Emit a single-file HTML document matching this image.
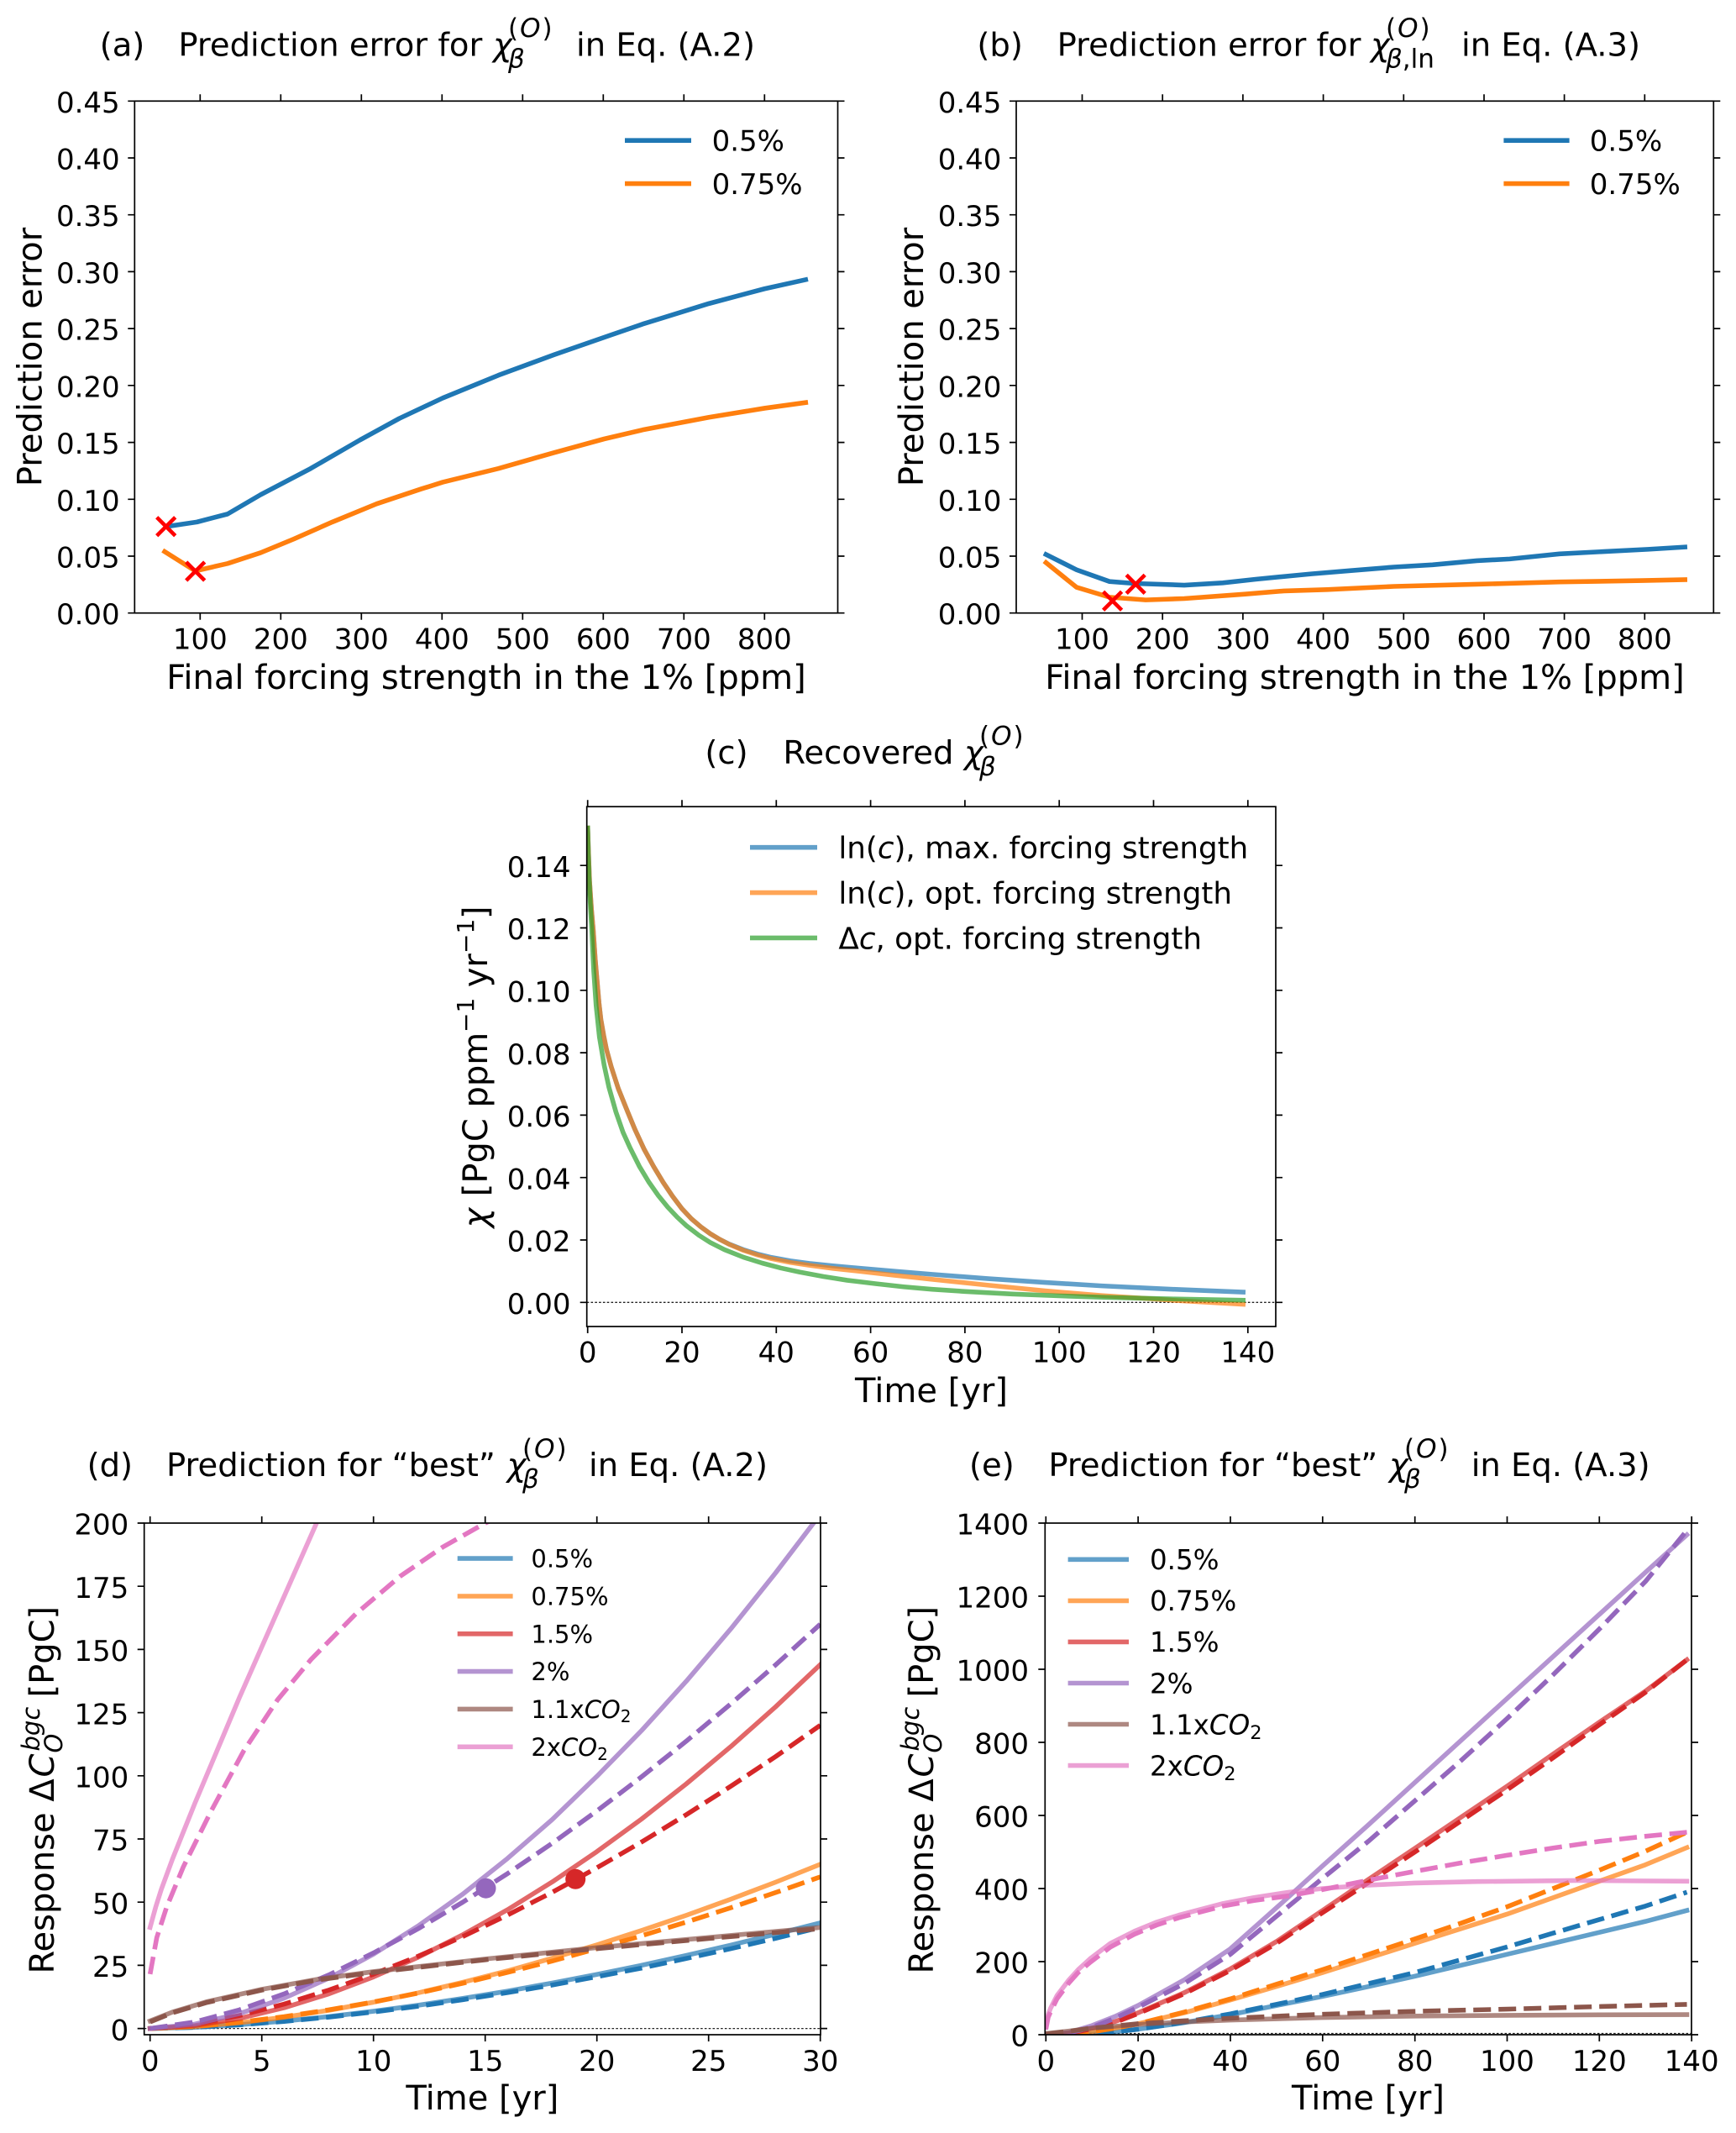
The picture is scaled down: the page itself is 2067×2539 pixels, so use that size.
<!DOCTYPE html>
<html><head><meta charset="utf-8"><style>
html,body{margin:0;padding:0;background:#fff;}
svg{display:block;}
text{font-family:"DejaVu Sans","Liberation Sans",sans-serif;fill:#000;}
.ln{fill:none;vector-effect:non-scaling-stroke;stroke-width:5.6;stroke-linejoin:round;stroke-linecap:square;}
.sl{fill:none;vector-effect:non-scaling-stroke;stroke-width:5.6;stroke-linejoin:round;stroke-linecap:square;stroke-opacity:0.7;}
.ds{fill:none;vector-effect:non-scaling-stroke;stroke-width:5.6;stroke-linejoin:round;stroke-linecap:butt;stroke-dasharray:21 9;}
.ax{fill:none;stroke:#000;stroke-width:1.7;}
.tk{fill:none;stroke:#000;stroke-width:1.7;}
.t34{font-size:34px;}
.lab{font-size:40px;}
.ttl{font-size:38.5px;}
.ss{font-size:31px;}
.dot{fill:none;stroke:#222;stroke-width:1.3;stroke-dasharray:2.6 2.2;}
</style></head><body>
<svg width="2067" height="2539" viewBox="0 0 2067 2539" xmlns="http://www.w3.org/2000/svg">
<rect x="0" y="0" width="2067" height="2539" fill="#fff"/>
<defs>
<clipPath id="cd"><rect x="171.7" y="1813" width="805.3" height="609"/></clipPath>
<clipPath id="ce"><rect x="1244.3" y="1813" width="769.7" height="609"/></clipPath>
<clipPath id="cc"><rect x="698.7" y="960.2" width="820.3" height="618.8"/></clipPath>
</defs>

<!-- ================= PANEL A ================= -->
<text class="ttl" x="118.7" y="66.5">(a)</text>
<text class="ttl" x="212.4" y="66.5">Prediction error for</text>
<text class="ttl" x="587" y="66.5" font-style="italic">χ</text>
<text class="ss" x="605" y="44" letter-spacing="2">(<tspan font-style="italic">O</tspan>)</text>
<text class="ss" x="605" y="80.5" font-style="italic">β</text>
<text class="ttl" x="686" y="66.5">in Eq. (A.2)</text>

<g transform="matrix(0.96 0 0 -13.542 142.3 729.7)">
<polyline class="ln" stroke="#1f77b4" points="58,7.6 96,8.0 134,8.7 175,10.4 237,12.7 298,15.2 347,17.1 401,18.9 470,20.9 539,22.7 608,24.4 649,25.4 731,27.2 800,28.5 851,29.3"/>
<polyline class="ln" stroke="#ff7f0e" points="56,5.4 94,3.7 134,4.35 175,5.3 216,6.5 264,8.0 319,9.6 374,10.9 401,11.5 470,12.7 539,14.1 601,15.3 649,16.1 731,17.2 800,18.0 851,18.5"/>
</g>
<path d="M186.7 615.7 L208.7 637.7 M208.7 615.7 L186.7 637.7 M221.7 669 L243.7 691 M243.7 669 L221.7 691" stroke="#ff0000" stroke-width="4.6" fill="none"/>

<rect class="ax" x="160.3" y="120.3" width="837.2" height="609.4"/>
<path class="tk" d="M238.3 729.7V737.7M334.3 729.7V737.7M430.3 729.7V737.7M526.3 729.7V737.7M622.3 729.7V737.7M718.3 729.7V737.7M814.3 729.7V737.7M910.3 729.7V737.7
M238.3 120.3V112.3M334.3 120.3V112.3M430.3 120.3V112.3M526.3 120.3V112.3M622.3 120.3V112.3M718.3 120.3V112.3M814.3 120.3V112.3M910.3 120.3V112.3
M160.3 729.7H152.3M160.3 662H152.3M160.3 594.3H152.3M160.3 526.6H152.3M160.3 458.8H152.3M160.3 391.1H152.3M160.3 323.4H152.3M160.3 255.7H152.3M160.3 188H152.3M160.3 120.3H152.3
M997.5 729.7H1005.5M997.5 662H1005.5M997.5 594.3H1005.5M997.5 526.6H1005.5M997.5 458.8H1005.5M997.5 391.1H1005.5M997.5 323.4H1005.5M997.5 255.7H1005.5M997.5 188H1005.5M997.5 120.3H1005.5"/>
<g class="t34" text-anchor="middle">
<text x="238.3" y="772.3">100</text><text x="334.3" y="772.3">200</text><text x="430.3" y="772.3">300</text><text x="526.3" y="772.3">400</text><text x="622.3" y="772.3">500</text><text x="718.3" y="772.3">600</text><text x="814.3" y="772.3">700</text><text x="910.3" y="772.3">800</text>
</g>
<g class="t34" text-anchor="end">
<text x="142.7" y="743.2">0.00</text><text x="142.7" y="675.5">0.05</text><text x="142.7" y="607.8">0.10</text><text x="142.7" y="540.1">0.15</text><text x="142.7" y="472.3">0.20</text><text x="142.7" y="404.6">0.25</text><text x="142.7" y="336.9">0.30</text><text x="142.7" y="269.2">0.35</text><text x="142.7" y="201.5">0.40</text><text x="142.7" y="133.8">0.45</text>
</g>
<text class="lab" x="579" y="820" text-anchor="middle">Final forcing strength in the 1% [ppm]</text>
<text class="lab" transform="translate(49.5,425) rotate(-90)" text-anchor="middle">Prediction error</text>
<path d="M744 167.2H823" stroke="#1f77b4" stroke-width="5.6"/>
<path d="M744 218.6H823" stroke="#ff7f0e" stroke-width="5.6"/>
<text class="t34" x="847.6" y="179.5">0.5%</text>
<text class="t34" x="847.6" y="230.9">0.75%</text>

<!-- ================= PANEL B ================= -->
<text class="ttl" x="1163.4" y="66.5">(b)</text>
<text class="ttl" x="1258.6" y="66.5">Prediction error for</text>
<text class="ttl" x="1632" y="66.5" font-style="italic">χ</text>
<text class="ss" x="1650" y="44" letter-spacing="2">(<tspan font-style="italic">O</tspan>)</text>
<text class="ss" x="1650" y="80.5"><tspan font-style="italic">β</tspan>,ln</text>
<text class="ttl" x="1740" y="66.5">in Eq. (A.3)</text>

<g transform="matrix(0.9569 0 0 -13.542 1192.8 729.7)">
<polyline class="ln" stroke="#1f77b4" points="55,5.15 93,3.8 134,2.77 165,2.6 227,2.45 275,2.65 316,2.97 385,3.44 433,3.72 488,4.04 536,4.24 591,4.6 632,4.75 694,5.2 749,5.4 804,5.6 850,5.8"/>
<polyline class="ln" stroke="#ff7f0e" points="55,4.43 93,2.26 134,1.39 179,1.15 227,1.27 303,1.66 351,1.94 405,2.06 488,2.34 591,2.53 694,2.73 797,2.85 850,2.93"/>
</g>
<path d="M1313.6 704.2 L1335.6 726.2 M1335.6 704.2 L1313.6 726.2 M1341.2 684.4 L1363.2 706.4 M1363.2 684.4 L1341.2 706.4" stroke="#ff0000" stroke-width="4.6" fill="none"/>

<rect class="ax" x="1210" y="120.3" width="830.3" height="609.4"/>
<path class="tk" d="M1288.5 729.7V737.7M1384.2 729.7V737.7M1479.9 729.7V737.7M1575.6 729.7V737.7M1671.3 729.7V737.7M1767 729.7V737.7M1862.6 729.7V737.7M1958.3 729.7V737.7
M1288.5 120.3V112.3M1384.2 120.3V112.3M1479.9 120.3V112.3M1575.6 120.3V112.3M1671.3 120.3V112.3M1767 120.3V112.3M1862.6 120.3V112.3M1958.3 120.3V112.3
M1210 729.7H1202M1210 662H1202M1210 594.3H1202M1210 526.6H1202M1210 458.8H1202M1210 391.1H1202M1210 323.4H1202M1210 255.7H1202M1210 188H1202M1210 120.3H1202
M2040.3 729.7H2048.3M2040.3 662H2048.3M2040.3 594.3H2048.3M2040.3 526.6H2048.3M2040.3 458.8H2048.3M2040.3 391.1H2048.3M2040.3 323.4H2048.3M2040.3 255.7H2048.3M2040.3 188H2048.3M2040.3 120.3H2048.3"/>
<g class="t34" text-anchor="middle">
<text x="1288.5" y="772.3">100</text><text x="1384.2" y="772.3">200</text><text x="1479.9" y="772.3">300</text><text x="1575.6" y="772.3">400</text><text x="1671.3" y="772.3">500</text><text x="1767" y="772.3">600</text><text x="1862.6" y="772.3">700</text><text x="1958.3" y="772.3">800</text>
</g>
<g class="t34" text-anchor="end">
<text x="1192.4" y="743.2">0.00</text><text x="1192.4" y="675.5">0.05</text><text x="1192.4" y="607.8">0.10</text><text x="1192.4" y="540.1">0.15</text><text x="1192.4" y="472.3">0.20</text><text x="1192.4" y="404.6">0.25</text><text x="1192.4" y="336.9">0.30</text><text x="1192.4" y="269.2">0.35</text><text x="1192.4" y="201.5">0.40</text><text x="1192.4" y="133.8">0.45</text>
</g>
<text class="lab" x="1625" y="820" text-anchor="middle">Final forcing strength in the 1% [ppm]</text>
<text class="lab" transform="translate(1099,425) rotate(-90)" text-anchor="middle">Prediction error</text>
<path d="M1790.4 167.2H1868.6" stroke="#1f77b4" stroke-width="5.6"/>
<path d="M1790.4 218.6H1868.6" stroke="#ff7f0e" stroke-width="5.6"/>
<text class="t34" x="1892.8" y="179.5">0.5%</text>
<text class="t34" x="1892.8" y="230.9">0.75%</text>

<!-- ================= PANEL C ================= -->
<text class="ttl" x="839.4" y="909">(c)</text>
<text class="ttl" x="932.4" y="909">Recovered</text>
<text class="ttl" x="1148" y="909" font-style="italic">χ</text>
<text class="ss" x="1166" y="886.5" letter-spacing="2">(<tspan font-style="italic">O</tspan>)</text>
<text class="ss" x="1166" y="923" font-style="italic">β</text>

<line class="dot" x1="698.7" y1="1550.3" x2="1519" y2="1550.3"/>
<g clip-path="url(#cc)">
<g transform="matrix(5.615 0 0 -37.15 699.7 1550.3)">
<polyline class="sl" stroke="#1f77b4" points="0,15.2 0.2,14.3 0.4,13.5 0.8,12.6 1.2,11.9 1.6,11.0 2,10.3 2.4,9.6 2.8,9.07 3.4,8.55 4,8.1 5,7.55 6.5,6.85 8.5,6.1 10,5.55 12,4.9 14,4.35 16,3.85 18,3.4 20,3.0 22,2.68 24,2.42 26,2.2 28,2.02 30,1.87 33,1.69 36,1.55 39,1.44 43,1.33 47,1.25 52,1.17 58,1.09 65,1.0 73,0.9 85,0.76 97,0.64 109,0.53 124,0.42 139,0.33"/>
<polyline class="sl" stroke="#ff7f0e" points="0,15.2 0.2,14.3 0.4,13.5 0.8,12.6 1.2,11.9 1.6,11.0 2,10.3 2.4,9.6 2.8,9.07 3.4,8.55 4,8.1 5,7.55 6.5,6.85 8.5,6.1 10,5.55 12,4.9 14,4.35 16,3.85 18,3.4 20,3.0 22,2.68 24,2.42 26,2.2 28,2.02 30,1.86 33,1.67 36,1.52 39,1.40 43,1.28 47,1.19 52,1.09 58,0.99 65,0.87 73,0.74 85,0.55 97,0.37 109,0.22 124,0.07 139,-0.06"/>
<polyline class="sl" stroke="#2ca02c" points="0,15.2 0.15,14.3 0.3,13.6 0.55,12.8 0.85,12.0 1.3,10.6 1.8,9.5 2.5,8.5 3.5,7.6 4.5,6.9 6,6.1 7.5,5.45 9,4.95 11,4.35 13,3.85 15,3.42 17,3.05 19,2.73 21,2.45 23.6,2.15 26,1.92 29,1.69 33,1.45 37,1.26 41,1.1 45,0.97 50,0.83 55,0.71 61,0.6 67,0.5 73,0.42 80,0.35 90,0.27 100,0.21 110,0.16 124,0.11 139,0.07"/>
</g>
</g>
<rect class="ax" x="698.7" y="960.2" width="820.3" height="618.8"/>
<path class="tk" d="M699.7 1579V1587M812 1579V1587M924.3 1579V1587M1036.6 1579V1587M1148.9 1579V1587M1261.2 1579V1587M1373.5 1579V1587M1485.8 1579V1587
M699.7 960.2V952.2M812 960.2V952.2M924.3 960.2V952.2M1036.6 960.2V952.2M1148.9 960.2V952.2M1261.2 960.2V952.2M1373.5 960.2V952.2M1485.8 960.2V952.2
M698.7 1550.3H690.7M698.7 1476H690.7M698.7 1401.7H690.7M698.7 1327.4H690.7M698.7 1253.1H690.7M698.7 1178.8H690.7M698.7 1104.5H690.7M698.7 1030.2H690.7
M1519 1550.3H1527M1519 1476H1527M1519 1401.7H1527M1519 1327.4H1527M1519 1253.1H1527M1519 1178.8H1527M1519 1104.5H1527M1519 1030.2H1527"/>
<g class="t34" text-anchor="middle">
<text x="699.7" y="1621.7">0</text><text x="812" y="1621.7">20</text><text x="924.3" y="1621.7">40</text><text x="1036.6" y="1621.7">60</text><text x="1148.9" y="1621.7">80</text><text x="1261.2" y="1621.7">100</text><text x="1373.5" y="1621.7">120</text><text x="1485.8" y="1621.7">140</text>
</g>
<g class="t34" text-anchor="end">
<text x="679.5" y="1564">0.00</text><text x="679.5" y="1489.7">0.02</text><text x="679.5" y="1415.4">0.04</text><text x="679.5" y="1341.1">0.06</text><text x="679.5" y="1266.8">0.08</text><text x="679.5" y="1192.5">0.10</text><text x="679.5" y="1118.2">0.12</text><text x="679.5" y="1043.9">0.14</text>
</g>
<text class="lab" x="1109" y="1669" text-anchor="middle">Time [yr]</text>
<g transform="translate(580,1270) rotate(-90)" class="lab">
<text x="-191.5" y="0" font-style="italic">χ</text>
<text x="-167" y="0" xml:space="preserve"> [PgC ppm</text>
<text x="41" y="-16" font-size="28">−1</text>
<text x="82" y="0" xml:space="preserve"> yr</text>
<text x="135" y="-16" font-size="28">−1</text>
<text x="176" y="0">]</text>
</g>
<path d="M893 1008.7H973" stroke="#1f77b4" stroke-opacity="0.7" stroke-width="5.6"/>
<path d="M893 1062.6H973" stroke="#ff7f0e" stroke-opacity="0.7" stroke-width="5.6"/>
<path d="M893 1116.4H973" stroke="#2ca02c" stroke-opacity="0.7" stroke-width="5.6"/>
<text x="998.4" y="1021.7" font-size="35.7px">ln(<tspan font-style="italic">c</tspan>), max. forcing strength</text>
<text x="998.4" y="1075.6" font-size="35.7px">ln(<tspan font-style="italic">c</tspan>), opt. forcing strength</text>
<text x="998.4" y="1129.4" font-size="35.7px">Δ<tspan font-style="italic">c</tspan>, opt. forcing strength</text>

<!-- ================= PANEL D ================= -->
<text class="ttl" x="103.6" y="1757">(d)</text>
<text class="ttl" x="198" y="1757">Prediction for “best”</text>
<text class="ttl" x="603.6" y="1757" font-style="italic">χ</text>
<text class="ss" x="622" y="1735" letter-spacing="2">(<tspan font-style="italic">O</tspan>)</text>
<text class="ss" x="622" y="1771" font-style="italic">β</text>
<text class="ttl" x="701" y="1757">in Eq. (A.2)</text>

<line class="dot" x1="171.7" y1="2414.6" x2="977" y2="2414.6"/>
<g clip-path="url(#cd)">
<g transform="matrix(26.6 0 0 -3.008 178.7 2414.6)">
<polyline class="sl" stroke="#1f77b4" points="0,0 2,0.48 4,1.5 6,2.93 8,4.71 10,6.82 12,9.2 14,11.9 16,14.8 18,18 20,21.4 22,25 24,28.9 26,33 28,37.3 30,41.8"/>
<polyline class="ds" stroke="#1f77b4" points="0,0 2,0.46 4,1.44 6,2.8 8,4.5 10,6.53 12,8.8 14,11.4 16,14.2 18,17.2 20,20.5 22,23.9 24,27.7 26,31.6 28,35.7 30,40"/>
<polyline class="sl" stroke="#ff7f0e" points="0,0 2,0.72 4,2.27 6,4.46 8,7.2 10,10.4 12,14.1 14,18.3 16,22.8 18,27.8 20,33.1 22,38.8 24,44.8 26,51.2 28,57.9 30,65"/>
<polyline class="ds" stroke="#ff7f0e" points="0,0 2,0.82 4,2.46 6,4.68 8,7.38 10,10.5 12,14 14,17.9 16,22.2 18,26.7 20,31.6 22,36.7 24,42.1 26,47.8 28,53.8 30,60"/>
<polyline class="sl" stroke="#d62728" points="0,0 2,1.16 4,3.99 6,8.2 8,13.7 10,20.4 12,28.2 14,37.1 16,47 18,58 20,70 22,82.9 24,96.8 26,111.6 28,127.3 30,144"/>
<polyline class="ds" stroke="#d62728" points="0,0 2,1.73 4,5.12 6,9.66 8,15.2 10,21.5 12,28.6 14,36.4 16,44.9 18,53.9 20,63.6 22,73.8 24,84.6 26,95.9 28,107.6 30,120"/>
<polyline class="sl" stroke="#9467bd" points="0,0 2,1.73 4,5.87 6,12 8,19.9 10,29.4 12,40.6 14,53.2 16,67.3 18,82.7 20,99.8 22,117.9 24,137.4 26,158.2 28,180.3 30,203.5"/>
<polyline class="ds" stroke="#9467bd" points="0,0 2,2.56 4,7.38 6,13.7 8,21.2 10,29.9 12,39.5 14,50 16,61.3 18,73.3 20,86.1 22,99.6 24,113.7 26,128.5 28,143.9 30,160"/>
<polyline class="sl" stroke="#8c564b" points="0,3 1,6.5 2.5,10.5 5,15.5 7.5,19.5 10,22.5 15,27.5 20,32 25,36 30,40"/>
<polyline class="ds" stroke="#8c564b" points="0,2.6 1,6.2 2.5,10.2 5,15.2 7.5,19.2 10,22.2 15,27.2 20,31.6 25,35.6 30,39.5"/>
<polyline class="sl" stroke="#e377c2" points="0,40 0.25,48 0.5,55 1,67 1.5,78 2,89 3,110 4,131 5,151 6,171 7,191 7.5,201 7.8,207"/>
<polyline class="ds" stroke="#e377c2" points="0,21.5 0.3,36 0.74,48 1.49,64 2.73,86 4.2,110 5.7,130 7.2,146 9.2,164 11.2,179 13.1,190.5 15,200 16,204"/>
</g>
</g>
<circle cx="578.5" cy="2247.7" r="12" fill="#9467bd"/>
<circle cx="685.2" cy="2236.8" r="12" fill="#d62728"/>
<rect class="ax" x="171.7" y="1813" width="805.3" height="609"/>
<path class="tk" d="M178.7 2422V2430M311.7 2422V2430M444.7 2422V2430M577.7 2422V2430M710.7 2422V2430M843.7 2422V2430M976.7 2422V2430
M178.7 1813V1805M311.7 1813V1805M444.7 1813V1805M577.7 1813V1805M710.7 1813V1805M843.7 1813V1805M976.7 1813V1805
M171.7 2414.6H163.7M171.7 2339.4H163.7M171.7 2264.2H163.7M171.7 2189H163.7M171.7 2113.8H163.7M171.7 2038.6H163.7M171.7 1963.4H163.7M171.7 1888.2H163.7M171.7 1813H163.7
M977 2414.6H985M977 2339.4H985M977 2264.2H985M977 2189H985M977 2113.8H985M977 2038.6H985M977 1963.4H985M977 1888.2H985M977 1813H985"/>
<g class="t34" text-anchor="middle">
<text x="178.7" y="2465">0</text><text x="311.7" y="2465">5</text><text x="444.7" y="2465">10</text><text x="577.7" y="2465">15</text><text x="710.7" y="2465">20</text><text x="843.7" y="2465">25</text><text x="976.7" y="2465">30</text>
</g>
<g class="t34" text-anchor="end">
<text x="153.3" y="2428.3">0</text><text x="153.3" y="2353.1">25</text><text x="153.3" y="2277.9">50</text><text x="153.3" y="2202.7">75</text><text x="153.3" y="2127.5">100</text><text x="153.3" y="2052.3">125</text><text x="153.3" y="1977.1">150</text><text x="153.3" y="1901.9">175</text><text x="153.3" y="1826.7">200</text>
</g>
<text class="lab" x="574.4" y="2511" text-anchor="middle">Time [yr]</text>
<g transform="translate(64,2117.5) rotate(-90)" class="lab">
<text x="-232" y="0">Response Δ</text>
<text x="2" y="0" font-style="italic">C</text>
<text x="31" y="10" font-size="29" font-style="italic">O</text>
<text x="33" y="-17" font-size="29" font-style="italic">bgc</text>
<text x="97" y="0">[PgC]</text>
</g>
<g font-size="29px">
<path d="M544.7 1855.1H610.6" stroke="#1f77b4" stroke-opacity="0.7" stroke-width="5.6"/>
<path d="M544.7 1900H610.6" stroke="#ff7f0e" stroke-opacity="0.7" stroke-width="5.6"/>
<path d="M544.7 1944.8H610.6" stroke="#d62728" stroke-opacity="0.7" stroke-width="5.6"/>
<path d="M544.7 1989.6H610.6" stroke="#9467bd" stroke-opacity="0.7" stroke-width="5.6"/>
<path d="M544.7 2034.4H610.6" stroke="#8c564b" stroke-opacity="0.7" stroke-width="5.6"/>
<path d="M544.7 2079.3H610.6" stroke="#e377c2" stroke-opacity="0.7" stroke-width="5.6"/>
<text x="632.4" y="1865.6">0.5%</text>
<text x="632.4" y="1910.5">0.75%</text>
<text x="632.4" y="1955.3">1.5%</text>
<text x="632.4" y="2000.1">2%</text>
<text x="632.4" y="2044.9">1.1x<tspan font-style="italic">CO</tspan><tspan font-size="20px" dy="5">2</tspan></text>
<text x="632.4" y="2089.8">2x<tspan font-style="italic">CO</tspan><tspan font-size="20px" dy="5">2</tspan></text>
</g>

<!-- ================= PANEL E ================= -->
<text class="ttl" x="1154" y="1757">(e)</text>
<text class="ttl" x="1248.4" y="1757">Prediction for “best”</text>
<text class="ttl" x="1654" y="1757" font-style="italic">χ</text>
<text class="ss" x="1672" y="1735" letter-spacing="2">(<tspan font-style="italic">O</tspan>)</text>
<text class="ss" x="1672" y="1771" font-style="italic">β</text>
<text class="ttl" x="1751.7" y="1757">in Eq. (A.3)</text>

<line class="dot" x1="1244.3" y1="2420.5" x2="2014" y2="2420.5"/>
<g clip-path="url(#ce)">
<g transform="matrix(5.491 0 0 -0.435 1245.3 2422)">
<polyline class="sl" stroke="#1f77b4" points="0,0 5,1 10,3 15,8 20,15 30,33 40,55 50,80 60,105 70,132 80,160 90,190 100,220 110,250 120,280 130,310 139,340"/>
<polyline class="ds" stroke="#1f77b4" points="0,0 5,1 10,3 15,8 20,15 30,34 40,57 50,83 60,110 70,140 80,170 90,205 100,240 110,278 120,315 130,352 139,390"/>
<polyline class="sl" stroke="#ff7f0e" points="0,0 5,2 10,8 15,18 20,30 30,60 40,95 50,132 60,170 70,210 80,250 90,290 100,330 110,375 120,420 130,465 139,512"/>
<polyline class="ds" stroke="#ff7f0e" points="0,0 5,2 10,8 15,18 20,30 30,62 40,98 50,138 60,178 70,220 80,262 90,305 100,350 110,400 120,450 130,502 139,554"/>
<polyline class="sl" stroke="#d62728" points="0,0 5,5 10,18 15,36 20,60 30,115 40,180 50,255 60,340 67,400 80,510 90,595 100,680 110,768 120,855 130,940 139,1026"/>
<polyline class="ds" stroke="#d62728" points="0,0 5,4 10,16 15,34 20,58 30,112 40,176 50,250 60,334 67,392 80,500 90,585 100,670 110,758 120,848 130,937 139,1026"/>
<polyline class="sl" stroke="#9467bd" points="0,0 5,6 10,25 15,50 20,80 30,150 40,235 52,370 60,462 70,575 80,690 90,805 100,920 110,1035 120,1150 130,1265 139,1368"/>
<polyline class="ds" stroke="#9467bd" points="0,0 5,5 10,20 15,45 20,75 30,140 40,220 52,345 60,428 70,530 80,640 90,750 100,865 110,985 120,1110 130,1240 139,1380"/>
<polyline class="sl" stroke="#8c564b" points="0,3 5,10 10,18 20,28 30,35 40,40 60,47 80,51 100,53 120,54.5 139,55"/>
<polyline class="ds" stroke="#8c564b" points="0,2 5,9 10,18 20,30 30,38 40,45 60,56 80,64 100,70 120,77 139,83"/>
<polyline class="sl" stroke="#e377c2" points="0,20 0.5,55 1,72 2.4,107 5,150 7,178 9.6,208 14,250 19.2,283 24,308 28.8,327 38.4,359 45,375 52.7,390 60,400 69.5,409 80,415 93.5,419 115,422 139,420"/>
<polyline class="ds" stroke="#e377c2" points="0,15 0.5,48 1,62 2.4,98 5,142 7,170 9.6,198 14,240 19.2,275 24,300 28.8,320 38.4,352 45,367 52.7,380 60,397 70,423 80,447 90,470 100,491 110,511 120,529 130,543 139,554"/>
</g>
</g>
<rect class="ax" x="1244.3" y="1813" width="769.7" height="609"/>
<path class="tk" d="M1245.3 2422V2430M1355.1 2422V2430M1465 2422V2430M1574.8 2422V2430M1684.7 2422V2430M1794.5 2422V2430M1904.3 2422V2430M2014.2 2422V2430
M1245.3 1813V1805M1355.1 1813V1805M1465 1813V1805M1574.8 1813V1805M1684.7 1813V1805M1794.5 1813V1805M1904.3 1813V1805M2014.2 1813V1805
M1244.3 2422H1236.3M1244.3 2335H1236.3M1244.3 2248H1236.3M1244.3 2161H1236.3M1244.3 2074H1236.3M1244.3 1987H1236.3M1244.3 1900H1236.3M1244.3 1813H1236.3
M2014 2422H2022M2014 2335H2022M2014 2248H2022M2014 2161H2022M2014 2074H2022M2014 1987H2022M2014 1900H2022M2014 1813H2022"/>
<g class="t34" text-anchor="middle">
<text x="1245.3" y="2465">0</text><text x="1355.1" y="2465">20</text><text x="1465" y="2465">40</text><text x="1574.8" y="2465">60</text><text x="1684.7" y="2465">80</text><text x="1794.5" y="2465">100</text><text x="1904.3" y="2465">120</text><text x="2014.2" y="2465">140</text>
</g>
<g class="t34" text-anchor="end">
<text x="1225" y="2435.5">0</text><text x="1225" y="2348.5">200</text><text x="1225" y="2261.5">400</text><text x="1225" y="2174.5">600</text><text x="1225" y="2087.5">800</text><text x="1225" y="2000.5">1000</text><text x="1225" y="1913.5">1200</text><text x="1225" y="1826.5">1400</text>
</g>
<text class="lab" x="1629" y="2511" text-anchor="middle">Time [yr]</text>
<g transform="translate(1111,2117.5) rotate(-90)" class="lab">
<text x="-232" y="0">Response Δ</text>
<text x="2" y="0" font-style="italic">C</text>
<text x="31" y="10" font-size="29" font-style="italic">O</text>
<text x="33" y="-17" font-size="29" font-style="italic">bgc</text>
<text x="97" y="0">[PgC]</text>
</g>
<g font-size="32.5px">
<path d="M1271.6 1856.3H1344" stroke="#1f77b4" stroke-opacity="0.7" stroke-width="5.6"/>
<path d="M1271.6 1905.4H1344" stroke="#ff7f0e" stroke-opacity="0.7" stroke-width="5.6"/>
<path d="M1271.6 1954.4H1344" stroke="#d62728" stroke-opacity="0.7" stroke-width="5.6"/>
<path d="M1271.6 2003.5H1344" stroke="#9467bd" stroke-opacity="0.7" stroke-width="5.6"/>
<path d="M1271.6 2052.5H1344" stroke="#8c564b" stroke-opacity="0.7" stroke-width="5.6"/>
<path d="M1271.6 2101.6H1344" stroke="#e377c2" stroke-opacity="0.7" stroke-width="5.6"/>
<text x="1369" y="1868.1">0.5%</text>
<text x="1369" y="1917.2">0.75%</text>
<text x="1369" y="1966.2">1.5%</text>
<text x="1369" y="2015.3">2%</text>
<text x="1369" y="2064.3">1.1x<tspan font-style="italic">CO</tspan><tspan font-size="22.5px" dy="5.5">2</tspan></text>
<text x="1369" y="2113.4">2x<tspan font-style="italic">CO</tspan><tspan font-size="22.5px" dy="5.5">2</tspan></text>
</g>
</svg>
</body></html>
